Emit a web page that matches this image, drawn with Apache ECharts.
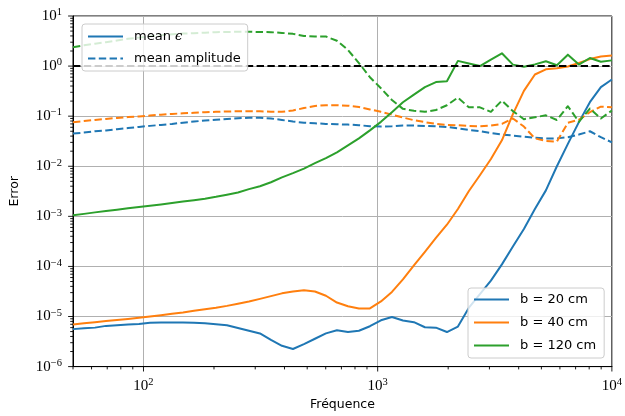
<!DOCTYPE html>
<html>
<head>
<meta charset="utf-8">
<script src="https://cdn.jsdelivr.net/npm/echarts@6/dist/echarts.min.js"></script>
<style>html,body{margin:0;padding:0;background:#fff}#c{width:625px;height:416px}</style>
</head>
<body>
<div id="c"></div>
<script>
// Frequencies (log-spaced sample points, Hz)
const freq = [50, 55.71, 62.07, 69.16, 77.06, 85.86, 95.66, 106.59, 118.76, 132.32,
  147.43, 164.27, 183.02, 203.92, 227.21, 253.15, 282.06, 314.27, 350.15, 390.14,
  434.69, 484.32, 539.63, 601.25, 669.90, 746.40, 831.63, 926.59, 1032.4, 1150.3,
  1281.7, 1428.0, 1591.1, 1772.8, 1975.2, 2200.8, 2452.1, 2732.1, 3044.1, 3391.7,
  3779.0, 4210.5, 4691.3, 5227.0, 5823.9, 6488.9, 7229.9, 8055.4, 8975.3, 10000];

// mean epsilon (solid)
const epsB20 = [5.6e-6, 5.8e-6, 6.0e-6, 6.5e-6, 6.7e-6, 6.9e-6, 7.1e-6, 7.5e-6, 7.6e-6, 7.6e-6,
  7.6e-6, 7.5e-6, 7.3e-6, 7.0e-6, 6.7e-6, 5.9e-6, 5.2e-6, 4.6e-6, 3.4e-6, 2.6e-6,
  2.25e-6, 2.8e-6, 3.6e-6, 4.6e-6, 5.3e-6, 4.9e-6, 5.2e-6, 6.4e-6, 8.4e-6, 9.8e-6,
  8.3e-6, 7.7e-6, 6.1e-6, 6.0e-6, 4.9e-6, 6.3e-6, 1.5e-5, 2.8e-5, 5.2e-5, 1.1e-4,
  2.5e-4, 5.6e-4, 1.4e-3, 3.3e-3, 0.010, 0.028, 0.076, 0.19, 0.38, 0.54];
const epsB40 = [6.9e-6, 7.3e-6, 7.7e-6, 8.1e-6, 8.5e-6, 8.9e-6, 9.4e-6, 1.0e-5, 1.06e-5, 1.13e-5,
  1.2e-5, 1.3e-5, 1.4e-5, 1.5e-5, 1.63e-5, 1.8e-5, 2.0e-5, 2.25e-5, 2.55e-5, 2.9e-5,
  3.15e-5, 3.35e-5, 3.15e-5, 2.6e-5, 1.9e-5, 1.6e-5, 1.45e-5, 1.45e-5, 2.0e-5, 3.1e-5,
  5.5e-5, 1.05e-4, 1.95e-4, 3.7e-4, 6.8e-4, 1.4e-3, 3.2e-3, 6.6e-3, 0.014, 0.033,
  0.11, 0.32, 0.68, 0.86, 0.91, 0.98, 1.15, 1.38, 1.56, 1.62];
const epsB120 = [1.05e-3, 1.12e-3, 1.2e-3, 1.28e-3, 1.36e-3, 1.45e-3, 1.53e-3, 1.63e-3, 1.73e-3, 1.85e-3,
  1.98e-3, 2.1e-3, 2.25e-3, 2.45e-3, 2.7e-3, 3.0e-3, 3.5e-3, 4.0e-3, 4.8e-3, 6.0e-3,
  7.3e-3, 9.0e-3, 0.0115, 0.0145, 0.019, 0.026, 0.036, 0.052, 0.077, 0.12,
  0.19, 0.27, 0.38, 0.48, 0.50, 1.27, 1.13, 1.0, 1.35, 1.8,
  1.07, 0.97, 1.08, 1.25, 1.04, 1.69, 1.07, 1.45, 1.22, 1.3];

// mean amplitude (dashed)
const ampB20 = [0.045, 0.047, 0.050, 0.052, 0.055, 0.058, 0.061, 0.064, 0.067, 0.070,
  0.074, 0.078, 0.082, 0.085, 0.088, 0.091, 0.093, 0.093, 0.090, 0.084,
  0.078, 0.074, 0.072, 0.070, 0.069, 0.068, 0.066, 0.063, 0.062, 0.063,
  0.065, 0.065, 0.064, 0.063, 0.061, 0.057, 0.053, 0.050, 0.046, 0.043,
  0.041, 0.039, 0.037, 0.036, 0.036, 0.038, 0.043, 0.050, 0.038, 0.030];
const ampB40 = [0.076, 0.080, 0.084, 0.088, 0.092, 0.096, 0.099, 0.103, 0.107, 0.111,
  0.114, 0.117, 0.120, 0.122, 0.124, 0.125, 0.126, 0.125, 0.123, 0.122,
  0.130, 0.145, 0.160, 0.166, 0.166, 0.162, 0.152, 0.136, 0.122, 0.107,
  0.094, 0.083, 0.076, 0.070, 0.067, 0.066, 0.064, 0.063, 0.065, 0.070,
  0.090, 0.062, 0.036, 0.032, 0.031, 0.074, 0.085, 0.12, 0.155, 0.15];
const ampB120 = [2.37, 2.6, 2.8, 3.0, 3.25, 3.5, 3.7, 3.95, 4.15, 4.3,
  4.45, 4.55, 4.65, 4.75, 4.8, 4.85, 4.85, 4.8, 4.75, 4.6,
  4.4, 4.0, 3.9, 3.9, 3.2, 2.1, 1.15, 0.6, 0.36, 0.21,
  0.14, 0.128, 0.122, 0.133, 0.165, 0.235, 0.15, 0.15, 0.122, 0.205,
  0.126, 0.087, 0.095, 0.104, 0.084, 0.158, 0.077, 0.142, 0.09, 0.13];

const refLevel = 1;
const xRange = [50, 10000];
const yRange = [1e-6, 10];
const seriesNames = ['b = 20 cm', 'b = 40 cm', 'b = 120 cm'];
const legendStyleNames = ['mean ϵ', 'mean amplitude'];
const colors = ['#1f77b4', '#ff7f0e', '#2ca02c'];

const DASH = [7.4, 3.4];
const LW = 2;
const pair = arr => freq.map((f, i) => [f, arr[i]]);

// tick positions (major decades, minor 2..9 multiples)
const ticks = [];
for (let e = 1; e <= 4; e++) {
  for (let m = 1; m <= 9; m++) {
    const v = m * Math.pow(10, e);
    if (v >= xRange[0] * 0.999 && v <= xRange[1] * 1.001) ticks.push([v, yRange[0], 0, m === 1 ? 1 : 0]);
  }
}
for (let e = -6; e <= 1; e++) {
  for (let m = 1; m <= 9; m++) {
    const v = m * Math.pow(10, e);
    if (v >= yRange[0] * 0.999 && v <= yRange[1] * 1.001) ticks.push([xRange[0], v, 1, m === 1 ? 1 : 0]);
  }
}

function logLabel(v) {
  const e = Math.round(Math.log10(v));
  if (Math.abs(v - Math.pow(10, e)) / Math.pow(10, e) > 1e-6) return '';
  return '{b|10}{s|' + String(e).replace('-', '\u2212') + '}';
}
const richTick = {
  b: { fontFamily: 'Liberation Serif', fontSize: 15, color: '#000', lineHeight: 18 },
  s: { fontFamily: 'Liberation Serif', fontSize: 10.5, color: '#000', lineHeight: 10, verticalAlign: 'top' }
};

const chart = echarts.init(document.getElementById('c'), null, { renderer: 'canvas' });

const series = [];
[epsB20, epsB40, epsB120].forEach((arr, i) => {
  series.push({
    name: seriesNames[i], type: 'line', data: pair(arr), symbol: 'none', color: colors[i],
    lineStyle: { width: LW, color: colors[i], join: 'round' }, z: 2
  });
  series.push({
    name: seriesNames[i] + ' amplitude', type: 'line', data: pair([ampB20, ampB40, ampB120][i]), symbol: 'none', color: colors[i],
    lineStyle: { width: LW, color: colors[i], type: DASH, join: 'round' }, z: 2
  });
});
series.push({
  name: 'ref', type: 'line', data: [[xRange[0], refLevel], [xRange[1], refLevel]], symbol: 'none',
  color: '#000', lineStyle: { width: LW, color: '#000', type: DASH }, z: 3
});
series.push({ name: legendStyleNames[0], type: 'line', data: [], symbol: 'none', color: colors[0], lineStyle: { width: LW } });
series.push({ name: legendStyleNames[1], type: 'line', data: [], symbol: 'none', color: colors[0], lineStyle: { width: LW, type: DASH } });
series.push({
  name: 'ticks', type: 'custom', data: ticks, clip: false, silent: true, z: 5,
  renderItem: function (params, api) {
    const kind = api.value(2), major = api.value(3);
    const len = major ? 4.9 : 2.8;
    if (kind === 0) {
      const p = api.coord([api.value(0), yRange[0]]);
      return { type: 'line', shape: { x1: p[0], y1: p[1], x2: p[0], y2: p[1] + len }, style: { stroke: '#000', lineWidth: 0.9 } };
    }
    const p = api.coord([xRange[0], api.value(1)]);
    return { type: 'line', shape: { x1: p[0] - len, y1: p[1], x2: p[0], y2: p[1] }, style: { stroke: '#000', lineWidth: 0.9 } };
  }
});

const txt = { fontFamily: 'DejaVu Sans', fontSize: 13, color: '#000' };
const legendCommon = {
  orient: 'vertical', itemWidth: 35, itemHeight: 14,
  backgroundColor: 'rgba(255,255,255,0.8)', borderColor: '#cccccc', borderWidth: 1, borderRadius: 3,
  selectedMode: false, itemStyle: { opacity: 0 },
  textStyle: Object.assign({}, txt, {
    rich: {
      t: Object.assign({}, txt, { padding: [0, 0, 0, 6] }),
      u: Object.assign({}, txt),
      e: Object.assign({}, txt, { fontFamily: 'DejaVu Serif', fontStyle: 'italic' })
    } })
};

chart.setOption({
  animation: false,
  backgroundColor: '#fff',
  grid: { left: 73, right: 10, top: 16, bottom: 48, show: true, borderColor: '#000', borderWidth: 1, backgroundColor: 'transparent' },
  legend: [
    Object.assign({}, legendCommon, {
      data: legendStyleNames, left: 82, top: 24, itemGap: 9, padding: [6, 7, 6, 5],
      formatter: n => n === 'mean ϵ' ? '{t|mean }{e|ϵ}' : '{t|' + n + '}'
    }),
    Object.assign({}, legendCommon, {
      data: seriesNames, left: 468, top: 288, itemGap: 10, padding: [5, 8, 6, 5],
      formatter: n => {
        const parts = n.split(' = ');
        return '{t|' + parts[0] + ' }{u|= ' + parts[1] + '}';
      }
    })
  ],
  xAxis: {
    type: 'log', logBase: 10, min: xRange[0], max: xRange[1],
    name: 'Fréquence', nameLocation: 'middle', nameGap: 29,
    nameTextStyle: { fontFamily: 'DejaVu Sans', fontSize: 12.5, color: '#000' },
    axisLine: { show: true, lineStyle: { color: '#000', width: 1 } },
    axisTick: { show: false },
    axisLabel: { formatter: logLabel, rich: richTick, margin: 10, showMinLabel: true, showMaxLabel: true, hideOverlap: false },
    splitLine: { show: true, lineStyle: { color: '#b0b0b0', width: 1 } },
    minorTick: { show: false }, minorSplitLine: { show: false }
  },
  yAxis: {
    type: 'log', logBase: 10, min: yRange[0], max: yRange[1],
    name: 'Error', nameLocation: 'middle', nameGap: 52,
    nameTextStyle: { fontFamily: 'DejaVu Sans', fontSize: 12.5, color: '#000' },
    axisLine: { show: true, lineStyle: { color: '#000', width: 1 } },
    axisTick: { show: false },
    axisLabel: { formatter: logLabel, rich: richTick, margin: 11, showMinLabel: true, showMaxLabel: true, hideOverlap: false },
    splitLine: { show: true, lineStyle: { color: '#b0b0b0', width: 1 } }
  },
  series: series
});
</script>
</body>
</html>
